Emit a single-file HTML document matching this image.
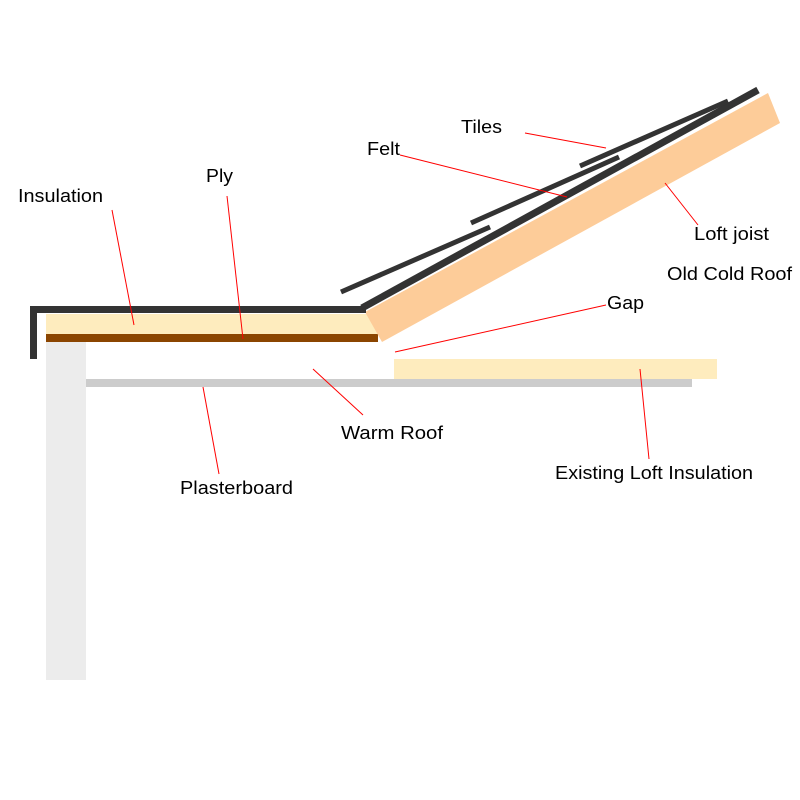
<!DOCTYPE html>
<html><head><meta charset="utf-8"><style>html,body{margin:0;padding:0;background:#fff}svg{display:block}text{font-family:"Liberation Sans",Arial,sans-serif;font-size:18px;fill:#000}</style></head><body>
<svg width="800" height="800" viewBox="0 0 800 800" xmlns="http://www.w3.org/2000/svg">
<rect x="46" y="342" width="40" height="338" fill="#ececec"/>
<rect x="46" y="314" width="332" height="20" fill="#feecbe"/>
<rect x="46" y="334" width="332" height="8" fill="#8b4500"/>
<polygon points="365,312 768,93 780,123 382,342" fill="#fdcc99"/>
<path d="M33.5 359 V309.5 H366" fill="none" stroke="#333" stroke-width="7"/>
<line x1="362" y1="308" x2="758" y2="90" stroke="#333" stroke-width="7"/>
<line x1="341" y1="292" x2="490" y2="227" stroke="#333" stroke-width="5"/>
<line x1="471" y1="223" x2="619" y2="157" stroke="#333" stroke-width="5"/>
<line x1="580" y1="166" x2="728" y2="101" stroke="#333" stroke-width="5"/>
<rect x="394" y="359" width="323" height="20" fill="#feecbe"/>
<rect x="86" y="379" width="606" height="8" fill="#cccccc"/>
<g stroke="#f00" stroke-width="1">
<line x1="525" y1="133" x2="606" y2="148"/>
<line x1="400" y1="155" x2="567" y2="197"/>
<line x1="665" y1="183" x2="698" y2="225"/>
<line x1="395" y1="352" x2="606" y2="305"/>
<line x1="112" y1="210" x2="134" y2="325"/>
<line x1="227" y1="196" x2="243" y2="339"/>
<line x1="313" y1="369" x2="363" y2="415"/>
<line x1="203" y1="387" x2="219" y2="474"/>
<line x1="640" y1="369" x2="649" y2="459"/>
</g>
<text x="461" y="133" textLength="41" lengthAdjust="spacingAndGlyphs">Tiles</text>
<text x="367" y="155" textLength="33" lengthAdjust="spacingAndGlyphs">Felt</text>
<text x="18" y="202" textLength="85" lengthAdjust="spacingAndGlyphs">Insulation</text>
<text x="206" y="182" textLength="27" lengthAdjust="spacingAndGlyphs">Ply</text>
<text x="694" y="240" textLength="75" lengthAdjust="spacingAndGlyphs">Loft joist</text>
<text x="667" y="280" textLength="125" lengthAdjust="spacingAndGlyphs">Old Cold Roof</text>
<text x="607" y="309" textLength="37" lengthAdjust="spacingAndGlyphs">Gap</text>
<text x="341" y="439" textLength="102" lengthAdjust="spacingAndGlyphs">Warm Roof</text>
<text x="180" y="494" textLength="113" lengthAdjust="spacingAndGlyphs">Plasterboard</text>
<text x="555" y="479" textLength="198" lengthAdjust="spacingAndGlyphs">Existing Loft Insulation</text>
</svg>
</body></html>
